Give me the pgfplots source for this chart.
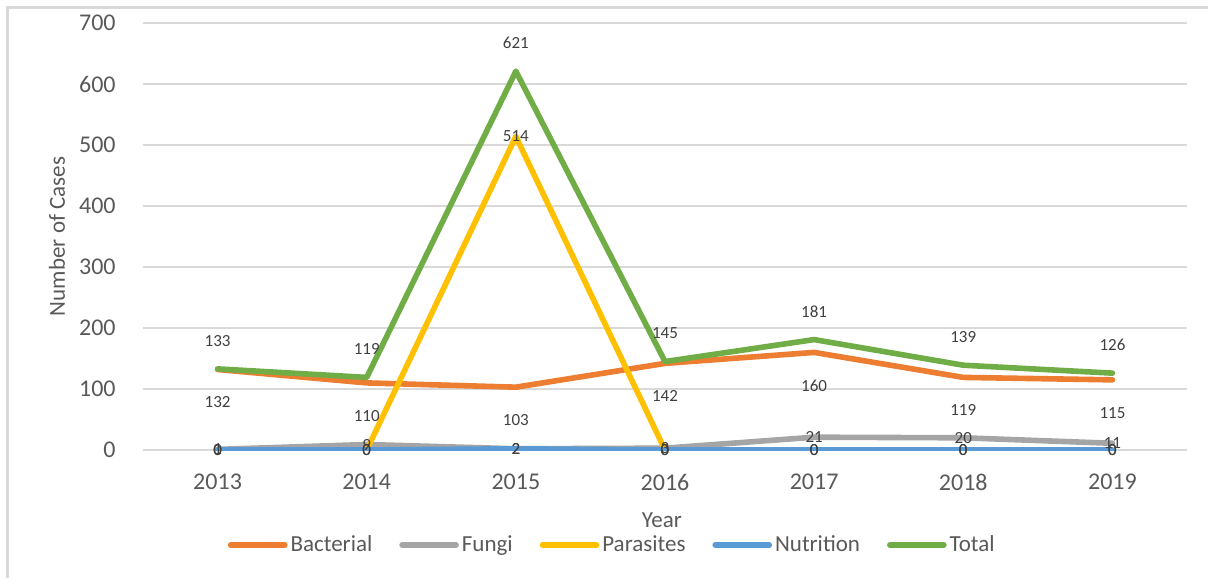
\documentclass[border=0pt]{standalone}
\usepackage{pgfplots}
\pgfplotsset{compat=1.18}
\usepackage{fontspec}
\setmainfont{Carlito}
\definecolor{cBac}{RGB}{237,125,49}
\definecolor{cFun}{RGB}{165,165,165}
\definecolor{cPar}{RGB}{255,192,0}
\definecolor{cNut}{RGB}{91,155,213}
\definecolor{cTot}{RGB}{112,173,71}
\definecolor{cGrid}{RGB}{217,217,217}
\definecolor{cTick}{RGB}{89,89,89}
\definecolor{cLab}{RGB}{64,64,64}
\begin{document}
\begin{tikzpicture}
\useasboundingbox (0,0) rectangle (604pt,289pt);
\draw[cGrid, line width=1.5pt] (3.5pt,0pt) -- (3.5pt,285pt) -- (604pt,285pt);
\begin{axis}[
  at={(71.5pt,64pt)}, anchor=south west,
  scale only axis, width=522pt, height=213.5pt,
  xmin=-0.5, xmax=6.5, ymin=0, ymax=700,
  xtick={0,...,6},
  xticklabels={2013,2014,2015,2016,2017,2018,2019},
  ytick={0,100,...,700},
  axis x line*=bottom, axis y line*=left,
  x axis line style={cGrid, line width=0.8pt, -},
  y axis line style={draw=none},
  ymajorgrids, major grid style={cGrid, line width=0.8pt},
  major tick length=0pt,
  tick label style={font=\fontsize{12}{14}\selectfont, text=cTick},
  /pgf/number format/assume math mode=true,
  xticklabel style={anchor=center, yshift=-16pt},
  yticklabel style={anchor=east, inner sep=0pt, xshift=-13.5pt},
  ylabel={Number of Cases},
  ylabel style={at={(axis description cs:-0.0824,0.5)}, anchor=center, rotate=0, font=\fontsize{11.5}{13}\selectfont, text=cTick},
  xlabel={Year},
  xlabel style={at={(axis description cs:0.497,-0.164)}, anchor=center, font=\fontsize{11.5}{13}\selectfont, text=cTick},
  legend columns=5,
  legend style={at={(axis description cs:0.450,-0.2225)}, anchor=center, draw=none, fill=none,
    font=\fontsize{11.5}{13}\selectfont, text=cTick,
    nodes={inner sep=1.5pt},
    /tikz/every even column/.append style={column sep=12pt}},
  legend image code/.code={\draw[#1, line cap=round] (0pt,0pt) -- (27pt,0pt);},
  every axis plot/.append style={line width=2.8pt, line cap=round, line join=round},
]
\addplot[cBac] coordinates {(0,132)(1,110)(2,103)(3,142)(4,160)(5,119)(6,115)};
\addlegendentry{Bacterial}
\addplot[cFun] coordinates {(0,1)(1,9)(2,2)(3,3)(4,21)(5,20)(6,11)};
\addlegendentry{Fungi}
\addplot[cPar] coordinates {(0,0)(1,0)(2,514)(3,0)(4,0)(5,0)(6,0)};
\addlegendentry{Parasites}
\addplot[cNut] coordinates {(0,0)(1,0)(2,2)(3,0)(4,0)(5,0)(6,0)};
\addlegendentry{Nutrition}
\addplot[cTot] coordinates {(0,133)(1,119)(2,621)(3,145)(4,181)(5,139)(6,126)};
\addlegendentry{Total}
% data labels on top
\pgfplotsset{lab/.style={draw=none, mark=none, forget plot, nodes near coords,
  nodes near coords style={font=\fontsize{8.5}{10}\selectfont, text=cLab, anchor=center, inner sep=0pt}}}
\addplot[lab, nodes near coords style={yshift=-16.5pt}] coordinates {(0,132)(1,110)(2,103)(3,142)(4,160)(5,119)(6,115)};
\addplot[lab] coordinates {(0,1)(1,9)(2,2)(3,3)(4,21)(5,20)(6,11)};
\addplot[lab] coordinates {(0,0)(1,0)(2,514)(3,0)(4,0)(5,0)(6,0)};
\addplot[lab] coordinates {(0,0)(1,0)(2,2)(3,0)(4,0)(5,0)(6,0)};
\addplot[lab, nodes near coords style={yshift=14pt}] coordinates {(0,133)(1,119)(2,621)(3,145)(4,181)(5,139)(6,126)};
\end{axis}
\end{tikzpicture}
\end{document}
